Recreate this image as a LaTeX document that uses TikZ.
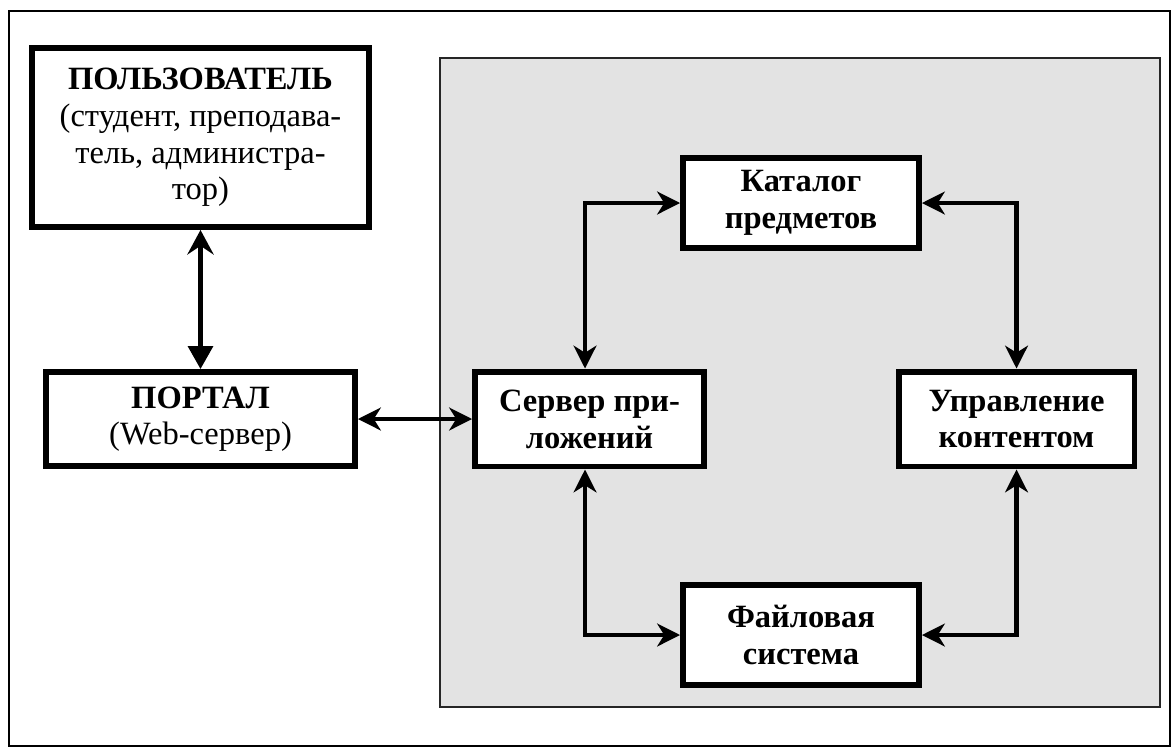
\documentclass[tikz,border=0pt]{standalone}
\usepackage{fontspec}
\setmainfont{Liberation Serif}
\usepackage{xcolor}
\usepackage{tikz}
\usetikzlibrary{arrows.meta}

\begin{document}
\begin{tikzpicture}[x=0.02cm, y=-0.02cm,
    every node/.style={font=\fontsize{18.5}{20.8}\selectfont},
    box/.style={draw, line width=3.4pt, fill=white, align=center, inner sep=0pt},
    inbox/.style={box, font=\fontsize{18.5}{21}\selectfont\bfseries, minimum width=4.72cm, minimum height=1.9cm},
    link/.style={line width=2.3pt, {Stealth[length=13pt, width=13pt, inset=4pt]}-{Stealth[length=13pt, width=13pt, inset=4pt]}}]
   \useasboundingbox (0,0) rectangle (1172,748);
   % Frame and grey area
   \draw[line width=1pt] (9,11) rectangle (1170,746);
   \draw[line width=1.1pt, black!85, fill=gray!22] (440,58) rectangle (1160,707);

    % Boxes
    \node[box, minimum width=6.74cm, minimum height=3.58cm] (user) at (200.5,137.5)
        {\textbf{ПОЛЬЗОВАТЕЛЬ}\\(студент, преподава-\\тель, администра-\\тор)};
    \node[box, minimum width=6.18cm, minimum height=1.88cm] (portal) at (200.5,419)
        {\textbf{ПОРТАЛ}\\(Web-сервер)};
    \node[inbox, minimum width=4.58cm] (server) at (589.5,419) {Сервер при-\\ложений};
    \node[inbox, minimum height=1.8cm] (catalog) at (801,203) {Каталог\\предметов};
    \node[inbox] (content) at (1016.5,419) {Управление\\контентом};
    \node[inbox, minimum height=2cm] (files) at (801,635) {Файловая\\система};

    % Arrows
    \draw[line width=2.3pt, {Stealth[length=14pt, width=15pt, inset=5pt]}-{Triangle[length=13pt, width=14pt]}] (user.south) -- (portal.north);
    \draw[link] (portal.east) -- (server.west);
    \draw[link] ([xshift=-0.09cm]server.north) |- (catalog.west);
    \draw[link] (catalog.east) -| (content.north);
    \draw[link] ([xshift=-0.09cm]server.south) |- (files.west);
    \draw[link] (content.south) |- (files.east);
\end{tikzpicture}
\end{document}
